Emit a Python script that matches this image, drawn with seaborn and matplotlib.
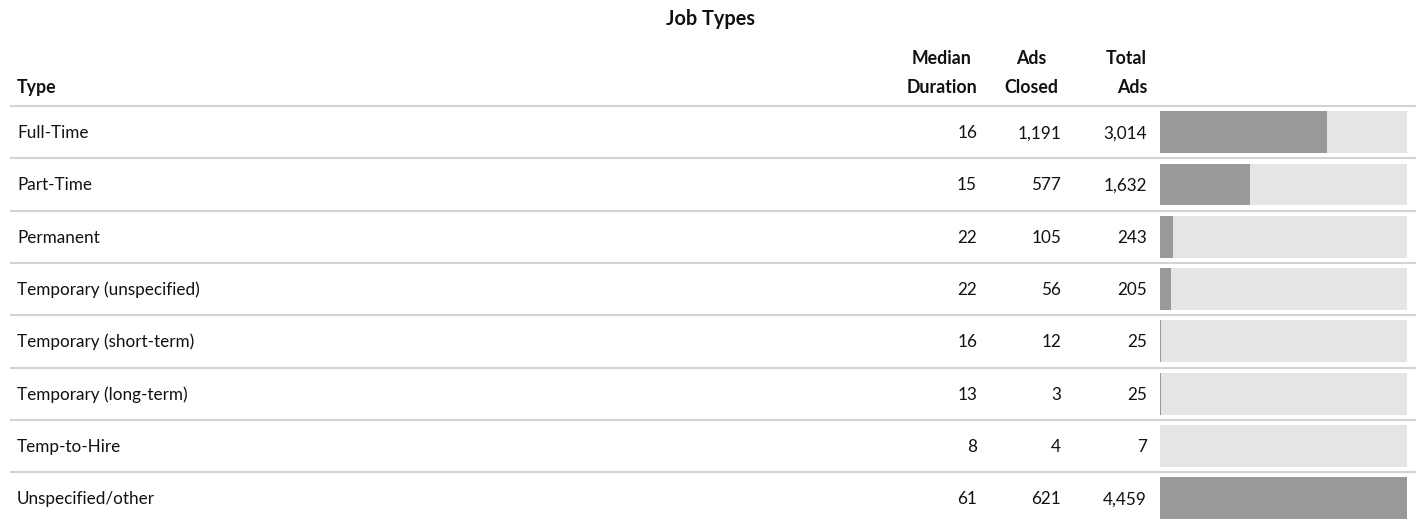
"""
Job Types table: label column, three number columns and a bar column
showing Total Ads relative to the largest category.
"""
import pandas as pd
import seaborn as sns
import matplotlib.pyplot as plt

job_types = ["Full-Time", "Part-Time", "Permanent", "Temporary (unspecified)",
             "Temporary (short-term)", "Temporary (long-term)", "Temp-to-Hire",
             "Unspecified/other"]
median_duration = [16, 15, 22, 22, 16, 13, 8, 61]
ads_closed = [1191, 577, 105, 56, 12, 3, 4, 621]
total_ads = [3014, 1632, 243, 205, 25, 25, 7, 4459]

df = pd.DataFrame({"type": job_types,
                   "median": median_duration,
                   "closed": ads_closed,
                   "total": total_ads})
df["share"] = df["total"] / df["total"].max()
df["full"] = 1.0

sns.set_theme(style="white")
plt.rcParams["font.family"] = ["Lato", "DejaVu Sans"]

W, H = 1416, 520
fig = plt.figure(figsize=(W / 100, H / 100), dpi=100)
ax = fig.add_axes([0, 0, 1, 1])
ax.set_xlim(0, W)
ax.set_ylim(H, 0)
ax.axis("off")

top, row_h = 106, 52.3
n = len(df)
txt = "#111111"
body = 12.3
head = 12.8

# title + column headers
ax.text(710, 25, "Job Types", ha="center", va="baseline", fontsize=14.3,
        weight="bold", color=txt)
ax.text(17, 93, "Type", ha="left", va="baseline", fontsize=head,
        weight="bold", color=txt)

renderer = fig.canvas.get_renderer()
inv = ax.transData.inverted()
headers = [("Median", "Duration", 977, "center"),
           ("Ads", "Closed", 1058, "center"),
           ("Total", "Ads", 1147, "right")]
for l1, l2, x, ma in headers:
    t2 = ax.text(x, 93, l2, ha="right", va="baseline", fontsize=head,
                 weight="bold", color=txt)
    if ma == "center":
        bb = t2.get_window_extent(renderer)
        xc = inv.transform(((bb.x0 + bb.x1) / 2, 0))[0]
        ax.text(xc, 64, l1, ha="center", va="baseline", fontsize=head,
                weight="bold", color=txt)
    else:
        ax.text(x, 64, l1, ha="right", va="baseline", fontsize=head,
                weight="bold", color=txt)

# row separators
for i in range(n):
    ax.hlines(top + i * row_h, 10, W, color="#d3d3d3", lw=1.5)

# row text
num_x = [977, 1061, 1147]
for i, row in df.iterrows():
    yb = top + (i + 0.5) * row_h + 6
    ax.text(17, yb, row["type"], ha="left", va="baseline", fontsize=body, color=txt)
    for x, col in zip(num_x, ["median", "closed", "total"]):
        ax.text(x, yb, f"{row[col]:,}", ha="right", va="baseline",
                fontsize=body, color=txt)

# bar column
bx = fig.add_axes([1160 / W, 1 - (top + n * row_h) / H,
                   (1407 - 1160) / W, n * row_h / H])
sns.barplot(data=df, y="type", x="full", color="#e5e5e5", width=0.8,
            saturation=1, linewidth=0, errorbar=None, ax=bx)
sns.barplot(data=df, y="type", x="share", color="#999999", width=0.8,
            saturation=1, linewidth=0, errorbar=None, ax=bx)
bx.set_xlim(0, 1)
bx.set_ylim(n - 0.5, -0.5)
bx.axis("off")

fig.savefig("out.png", dpi=100)
